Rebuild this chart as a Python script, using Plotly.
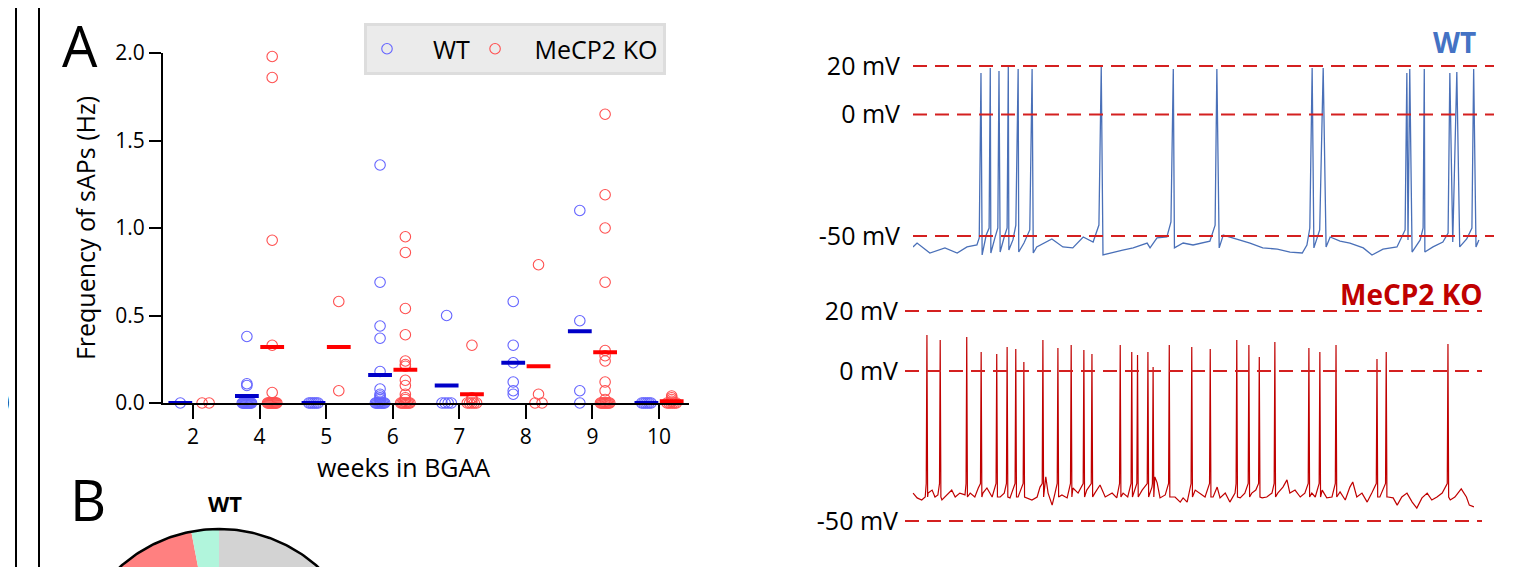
import numpy as np
import plotly.graph_objects as go

# The page adds an 8 px body margin; the figure fills the rest of the 1536x567 window.
OFF = 8
W, H = 1536 - OFF, 567 - OFF
FONT = "Open Sans"


def px(x):  # window x (px) -> paper fraction
    return (x - OFF) / W


def py(y):  # window y (px, from top) -> paper fraction
    return 1 - (y - OFF) / H


# ---------------- Panel A: frequency of sAPs ----------------
weeks = ["2", "4", "5", "6", "7", "8", "9", "10"]

wt_freq = [
    [0.0],
    [0.38, 0.11, 0.10, 0.0, 0.0, 0.0, 0.0, 0.0, 0.0, 0.0, 0.0, 0.0, 0.0, 0.0, 0.0],
    [0.0, 0.0, 0.0, 0.0, 0.0, 0.0],
    [1.36, 0.69, 0.44, 0.37, 0.18, 0.08, 0.05, 0.04, 0.03, 0.02, 0.01,
     0.0, 0.0, 0.0, 0.0, 0.0, 0.0, 0.0, 0.0, 0.0],
    [0.50, 0.0, 0.0, 0.0, 0.0],
    [0.58, 0.33, 0.23, 0.12, 0.07, 0.05],
    [1.10, 0.47, 0.07, 0.0],
    [0.0, 0.0, 0.0, 0.0, 0.0, 0.0],
]
ko_freq = [
    [0.0, 0.0],
    [1.98, 1.86, 0.93, 0.33, 0.06, 0.0, 0.0, 0.0, 0.0, 0.0, 0.0, 0.0, 0.0, 0.0, 0.0, 0.0],
    [0.58, 0.07],
    [0.95, 0.86, 0.54, 0.39, 0.24, 0.22, 0.21, 0.13, 0.10, 0.05, 0.03, 0.02,
     0.0, 0.0, 0.0, 0.0, 0.0, 0.0, 0.0, 0.0],
    [0.33, 0.03, 0.02, 0.0, 0.0, 0.0, 0.0, 0.0],
    [0.79, 0.05, 0.0, 0.0],
    [1.65, 1.19, 1.00, 0.69, 0.30, 0.27, 0.24, 0.12, 0.07, 0.02,
     0.0, 0.0, 0.0, 0.0, 0.0, 0.0, 0.0, 0.0, 0.0],
    [0.04, 0.03, 0.02, 0.01, 0.0, 0.0, 0.0, 0.0, 0.0, 0.0],
]
wt_mean = [0.0, 0.04, 0.0, 0.16, 0.10, 0.23, 0.41, 0.0]
ko_mean = [None, 0.32, 0.32, 0.19, 0.05, 0.21, 0.29, 0.01]

# ---------------- Membrane potential traces ----------------
wt_trace = [
    (0.00, -54.5), (0.07, -52.9), (0.29, -57.0), (0.55, -54.9), (0.76, -57.0), (0.93, -54.5),
    (1.10, -53.7), (1.14, -50.8), (1.17, 17.1), (1.19, -57.8), (1.26, -49.6), (1.31, -46.7),
    (1.33, 19.2), (1.34, -57.0), (1.41, -50.8), (1.46, -46.7), (1.48, 17.9), (1.50, -56.6),
    (1.57, -50.4), (1.62, -46.7), (1.64, 19.6), (1.65, -55.8), (1.72, -51.6), (1.77, -45.5),
    (1.81, 18.8), (1.82, -56.6), (1.91, -52.9), (2.01, -47.5), (2.05, 18.8), (2.07, -57.0),
    (2.13, -54.5), (2.39, -51.2), (2.58, -54.5), (2.75, -54.9), (2.93, -50.4), (3.10, -52.5),
    (3.20, -45.5), (3.24, 19.6), (3.27, -57.8), (3.39, -57.0), (3.61, -55.8), (3.79, -54.9),
    (4.03, -52.9), (4.08, -54.9), (4.20, -50.8), (4.37, -50.4), (4.44, -44.2), (4.48, 18.8),
    (4.50, -54.9), (4.65, -52.9), (4.82, -53.7), (5.11, -52.1), (5.20, -45.5), (5.23, 18.8),
    (5.27, -54.9), (5.34, -49.6), (5.58, -51.2), (5.80, -52.9), (6.02, -54.9), (6.27, -55.4),
    (6.49, -56.6), (6.70, -57.0), (6.78, -53.7), (6.83, -46.7), (6.87, 19.2), (6.90, -54.9),
    (7.00, -47.5), (7.06, 19.2), (7.11, -54.5), (7.18, -50.4), (7.35, -52.1), (7.52, -52.9),
    (7.75, -54.9), (7.90, -57.8), (8.09, -55.4), (8.33, -54.5), (8.47, -47.5), (8.50, 17.1),
    (8.52, -51.6), (8.55, 18.8), (8.59, -56.6), (8.73, -51.6), (8.78, -46.7), (8.80, 18.8),
    (8.81, -56.6), (8.95, -54.5), (9.12, -52.5), (9.21, -48.8), (9.24, 17.1), (9.29, -52.5),
    (9.36, 17.5), (9.41, -54.5), (9.53, -51.2), (9.62, -46.7), (9.65, 18.8), (9.69, -54.5),
    (9.74, -51.6),
]

ko_baseline = [
    (0.14, -40.7), (0.21, -42.3), (0.29, -43.0), (0.35, -42.0), (0.40, -40.7), (0.47, -39.7),
    (0.52, -42.0), (0.57, -41.3), (0.64, -43.0), (0.73, -41.3), (0.81, -39.7), (0.87, -42.0),
    (0.95, -40.7), (1.04, -41.3), (1.13, -40.7), (1.21, -42.0), (1.27, -39.0), (1.35, -40.7),
    (1.42, -39.0), (1.51, -42.0), (1.65, -42.0), (1.72, -40.7), (1.82, -42.3), (1.96, -42.0),
    (2.11, -42.3), (2.20, -43.0), (2.29, -42.0), (2.34, -38.7), (2.44, -35.3), (2.48, -40.7),
    (2.55, -44.7), (2.60, -40.7), (2.72, -41.3), (2.81, -42.3), (2.91, -39.0), (3.00, -40.7),
    (3.15, -39.7), (3.29, -40.7), (3.38, -38.0), (3.47, -42.0), (3.59, -40.7), (3.67, -42.3),
    (3.78, -40.7), (3.86, -42.0), (4.11, -39.7), (4.28, -38.7), (4.33, -35.3), (4.37, -37.3),
    (4.42, -42.3), (4.51, -41.3), (4.59, -42.0), (4.68, -42.0), (4.77, -43.7), (4.82, -42.3),
    (4.89, -43.7), (5.03, -39.7), (5.11, -40.7), (5.20, -42.0), (5.34, -42.0), (5.41, -38.7),
    (5.46, -42.3), (5.55, -40.7), (5.63, -43.7), (5.72, -40.7), (5.81, -42.3), (5.89, -40.7),
    (6.01, -40.7), (6.08, -39.7), (6.19, -42.3), (6.27, -42.0), (6.36, -40.7), (6.46, -40.7),
    (6.55, -38.7), (6.62, -36.3), (6.67, -40.7), (6.76, -39.7), (6.85, -42.0), (6.93, -40.7),
    (7.05, -40.7), (7.11, -42.0), (7.23, -39.7), (7.31, -42.3), (7.40, -42.0), (7.54, -40.3),
    (7.63, -43.0), (7.71, -38.7), (7.76, -37.0), (7.83, -42.0), (7.92, -40.7), (8.01, -43.7),
    (8.09, -40.7), (8.23, -42.0), (8.37, -42.0), (8.46, -42.3), (8.53, -44.7), (8.61, -42.0),
    (8.70, -40.7), (8.79, -43.7), (8.87, -45.7), (8.96, -42.3), (9.05, -40.7), (9.13, -43.0),
    (9.22, -42.0), (9.31, -40.7), (9.45, -43.0), (9.53, -42.0), (9.64, -39.3), (9.73, -42.0),
    (9.78, -44.7), (9.86, -45.3),
]
ko_spike_t = [0.38, 0.61, 1.07, 1.32, 1.59, 1.77, 1.92, 2.06, 2.39, 2.65, 2.88, 3.10, 3.24,
              3.73, 3.93, 4.03, 4.21, 4.30, 4.58, 4.97, 5.29, 5.75, 5.96, 6.14, 6.41, 7.00,
              7.19, 7.47, 8.18, 8.34, 9.41]
ko_spike_peak = [12.0, 10.3, 11.3, 6.3, 5.7, 8.0, 7.3, 3.0, 10.3, 7.7, 8.7, 7.0, 5.7,
                 8.7, 6.3, 5.3, 6.3, 1.3, 8.7, 8.0, 7.3, 10.3, 8.7, 4.7, 9.7, 7.7,
                 6.3, 8.7, 4.0, 6.3, 9.0]
ko_spike_threshold = -37.5
ko_spike_ahp = -42.0

level_mv = [20, 0, -50]
level_text = ["20 mV", "0 mV", "-50 mV"]

# ---------------- Panel B: pie (WT) ----------------
pie_labels = ["no sAPs", "sAPs", "bursting"]
pie_frac = [0.62, 0.35, 0.03]
pie_colors = ["#d3d3d3", "#ff8080", "#b1f5dc"]

# ============================================================
fig = go.Figure()

WT_C, KO_C = "#6464ff", "#ff5050"
NB = "\u00a0"


def strip_positions(groups, side):
    xs, ys = [], []
    for i, vals in enumerate(groups):
        clusters = {}
        for v in vals:
            clusters.setdefault(round(v, 3), []).append(v)
        for v, members in clusters.items():
            n = len(members)
            if n == 1:
                offs = [0.0]
            else:
                w = 0.053 if n == 2 else 0.07
                offs = np.linspace(-w, w, n)
            for o in offs:
                xs.append(i + side + o)
                ys.append(v)
    return xs, ys


SIDE = 0.19
wx, wy = strip_positions(wt_freq, -SIDE)
kx, ky = strip_positions(ko_freq, SIDE)

fig.add_trace(go.Scatter(x=wx, y=wy, mode="markers", name=NB * 4 + "WT", cliponaxis=False,
                         marker=dict(symbol="circle-open", size=10.5, color=WT_C, line=dict(width=1.1))))
fig.add_trace(go.Scatter(x=kx, y=ky, mode="markers", name=NB * 3 + "MeCP2 KO", cliponaxis=False,
                         marker=dict(symbol="circle-open", size=10.5, color=KO_C, line=dict(width=1.1))))
fig.add_trace(go.Scatter(x=[i - SIDE for i in range(len(weeks))], y=wt_mean, mode="markers",
                         showlegend=False, cliponaxis=False,
                         marker=dict(symbol="line-ew", size=17, line=dict(width=4, color="#0000c8"))))
fig.add_trace(go.Scatter(x=[i + SIDE for i in range(len(weeks))], y=ko_mean, mode="markers",
                         showlegend=False, cliponaxis=False,
                         marker=dict(symbol="line-ew", size=17, line=dict(width=4, color="#ff0000"))))

# traces
wt_t, wt_v = zip(*wt_trace)
fig.add_trace(go.Scatter(x=wt_t, y=wt_v, mode="lines", showlegend=False, xaxis="x2", yaxis="y2",
                         line=dict(color="#4a70b8", width=1.3)))

SPIKE_HALF = 0.012
ko_pts = list(ko_baseline)
for t, p in zip(ko_spike_t, ko_spike_peak):
    ko_pts += [(t - SPIKE_HALF, ko_spike_threshold), (t, p), (t + SPIKE_HALF, ko_spike_ahp)]
ko_pts.sort()
ko_t, ko_v = zip(*ko_pts)
fig.add_trace(go.Scatter(x=ko_t, y=ko_v, mode="lines", showlegend=False, xaxis="x3", yaxis="y3",
                         line=dict(color="#c00000", width=1.2)))

# pie drawn as wedges on an equal-scale axis (most of it lies below the page)
start = 0.0
for lab, fr, col in zip(pie_labels, pie_frac, pie_colors):
    th = np.linspace(start, start + fr, max(int(fr * 360), 2)) * 2 * np.pi
    xs = np.concatenate([[0], np.sin(th), [0]])
    ys = np.concatenate([[0], np.cos(th), [0]])
    fig.add_trace(go.Scatter(x=xs, y=ys, mode="lines", fill="toself", fillcolor=col,
                             line=dict(width=0, color=col), name=lab, showlegend=False,
                             xaxis="x4", yaxis="y4", hoverinfo="name"))
    start += fr
th = np.linspace(0, 2 * np.pi, 361)
fig.add_trace(go.Scatter(x=np.sin(th), y=np.cos(th), mode="lines", showlegend=False,
                         line=dict(color="black", width=2.5), xaxis="x4", yaxis="y4", hoverinfo="skip"))

# dashed reference levels
shapes = []
for lv in level_mv:
    for xa, ya in (("x2", "y2"), ("x3", "y3")):
        shapes.append(dict(type="line", xref=xa, yref=ya, x0=0, x1=10, y0=lv, y1=lv,
                           line=dict(color="#d42020", width=2, dash="14px,8px")))
for xp in (16, 39):
    shapes.append(dict(type="line", xref="paper", yref="paper", x0=px(xp), x1=px(xp), y0=0, y1=1,
                       line=dict(color="black", width=2)))

axis_common = dict(showgrid=False, zeroline=False, automargin=False)
tick_font = dict(family=FONT, size=21, color="black")
mv_font = dict(family=FONT, size=25, color="black")

PIE_R = 148  # pie radius in window px; centre at (219, 677)

fig.update_layout(
    width=W, height=H, autosize=False,
    margin=dict(l=0, r=0, t=0, b=0),
    paper_bgcolor="white", plot_bgcolor="rgba(0,0,0,0)",
    font=dict(family=FONT, color="black"),
    shapes=shapes,
    xaxis=dict(domain=[px(163), px(689)], range=[-0.45, 7.45], tickmode="array",
               tickvals=list(range(len(weeks))), ticktext=weeks,
               showline=True, linecolor="black", linewidth=2,
               ticks="outside", ticklen=14, tickwidth=2, tickcolor="black", tickfont=tick_font,
               **axis_common),
    yaxis=dict(domain=[py(403), py(53)], range=[0, 2.0], tickmode="array",
               tickvals=[0, 0.5, 1.0, 1.5, 2.0], tickformat=".1f",
               showline=True, linecolor="black", linewidth=2,
               ticks="outside", ticklen=12, tickwidth=2, tickcolor="black", tickfont=tick_font,
               title=dict(text="Frequency of sAPs (Hz)", font=dict(family=FONT, size=25), standoff=13),
               **axis_common),
    xaxis2=dict(domain=[px(913), px(1494)], range=[0, 10], visible=False, anchor="y2", **axis_common),
    yaxis2=dict(domain=[py(260.3), py(41.7)], range=[-60, 30], anchor="x2",
                tickmode="array", tickvals=level_mv, ticktext=level_text, ticks="",
                showline=False, ticklabelstandoff=12, tickfont=mv_font, **axis_common),
    xaxis3=dict(domain=[px(905), px(1482)], range=[0, 10], visible=False, anchor="y3", **axis_common),
    yaxis3=dict(domain=[py(551), py(281)], range=[-60, 30], anchor="x3",
                tickmode="array", tickvals=level_mv, ticktext=level_text, ticks="",
                showline=False, ticklabelstandoff=6, tickfont=mv_font, **axis_common),
    xaxis4=dict(domain=[px(100), px(340)], range=[-119 / PIE_R, 121 / PIE_R], visible=False,
                anchor="y4", **axis_common),
    yaxis4=dict(domain=[0, py(522)], range=[110 / PIE_R, 155 / PIE_R], visible=False,
                anchor="x4", **axis_common),
    legend=dict(orientation="h", x=px(364), y=py(23), xanchor="left", yanchor="top",
                bgcolor="#ebebeb", bordercolor="#dddddd", borderwidth=3, itemwidth=30,
                font=dict(family=FONT, size=25, color="black")),
    annotations=[
        dict(text="weeks in BGAA", x=px(403), y=py(467), xref="paper", yref="paper",
             showarrow=False, font=dict(family=FONT, size=25), xanchor="center", yanchor="middle"),
        dict(text="A", x=px(80), y=py(45), xref="paper", yref="paper", showarrow=False,
             font=dict(family=FONT, size=56), xanchor="center", yanchor="middle"),
        dict(text="B", x=px(88), y=py(499), xref="paper", yref="paper", showarrow=False,
             font=dict(family=FONT, size=56), xanchor="center", yanchor="middle"),
        dict(text="<b>WT</b>", x=px(225), y=py(503), xref="paper", yref="paper", showarrow=False,
             font=dict(family=FONT, size=22), xanchor="center", yanchor="middle"),
        dict(text="<b>WT</b>", x=px(1478), y=py(42), xref="paper", yref="paper", showarrow=False,
             font=dict(family=FONT, size=28, color="#4472c4"), xanchor="right", yanchor="middle"),
        dict(text="<b>MeCP2 KO</b>", x=px(1485), y=py(294), xref="paper", yref="paper",
             showarrow=False, font=dict(family=FONT, size=28, color="#c00000"),
             xanchor="right", yanchor="middle"),
        dict(text="0", x=px(12), y=py(401), xref="paper", yref="paper", showarrow=False,
             font=dict(family=FONT, size=30), xanchor="right", yanchor="middle"),
    ],
)

fig.write_html("out.html")
